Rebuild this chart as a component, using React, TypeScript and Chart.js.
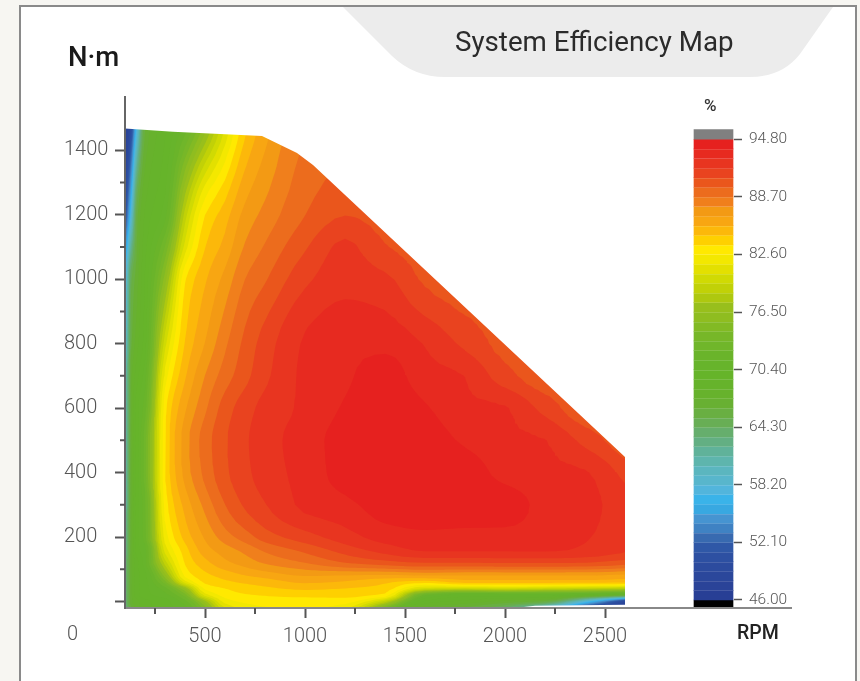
import React, { useEffect, useRef } from "react";
import { Chart, registerables } from "chart.js";

Chart.register(...registerables);

// Operating map grid: speed (RPM) by torque (N·m), efficiency in %.
const rpmNodes = [100, 130, 160, 200, 300, 400, 500, 600, 700, 800, 1000, 1200, 1400, 1600, 1800, 2000, 2200, 2400, 2600];
const torqueNodes = [-20, 0, 20, 40, 60, 80, 120, 160, 200, 300, 400, 500, 600, 700, 800, 1000, 1100, 1200, 1500];
const efficiency = [
  [62, 66, 68, 69, 70, 71, 75, 80.5, 82, 82.5, 82.8, 82, 74, 67, 66, 64, 58, 50, 46.5],
  [63, 67, 68, 69, 70, 72, 77, 82, 82.8, 83, 83, 83, 79, 69, 68, 67, 66, 58, 49],
  [63, 67, 69, 70, 71, 74, 81, 83, 83.5, 83.7, 84, 84, 83.3, 72, 70, 70, 70, 69, 67],
  [63, 67, 69, 70, 72, 76.5, 82.8, 83.6, 84.1, 84.4, 84.8, 84.6, 84.2, 80, 79.5, 80, 79.5, 79, 78.5],
  [63, 67, 69, 70, 74, 81, 83.8, 84.4, 84.8, 85.1, 85.8, 85.5, 84.8, 84, 85, 85, 85, 85, 84.8],
  [63, 67, 69, 70, 76, 82.8, 84.3, 85, 85.6, 86, 86.7, 86.6, 86.4, 86.6, 86.6, 86.6, 86.6, 86.6, 86.3],
  [63, 67, 69, 71, 79, 83.7, 85.3, 86.4, 87.1, 87.8, 88.7, 89.7, 90.3, 90.7, 90.7, 90.8, 90.8, 90.7, 90.2],
  [62, 67, 70, 71, 81, 84.2, 86.2, 87.2, 88, 88.9, 90, 91.2, 92.2, 92.9, 92.9, 92.9, 92.9, 92.6, 91.9],
  [62, 67, 70, 72, 82, 85, 86.8, 88.2, 89.2, 90.2, 91.3, 92.3, 93.2, 93.5, 93.4, 93.4, 93.2, 92.85, 92.2],
  [61, 67, 70, 72, 83, 86, 88, 89.7, 90.9, 91.7, 93, 93.5, 94.3, 94.5, 94.5, 94.4, 93.4, 93.1, 92.2],
  [60, 67, 70, 73, 83.5, 87, 89, 90.5, 91.5, 92.2, 93.2, 94.2, 94.7, 94.6, 94.4, 93.4, 93, 92.85, 91.4],
  [60, 67, 70, 73, 83.6, 87.2, 89.2, 90.6, 91.6, 92.3, 93.3, 94.2, 94.6, 94.4, 93.6, 93, 92.8, 91.4, 90],
  [60, 67, 70, 72, 83.3, 86.5, 88.5, 90.2, 91.3, 92.1, 93, 93.9, 94.5, 93.9, 93, 92.85, 91.35, 90.1, 90.1],
  [60, 67, 69, 71, 82, 85.5, 87.7, 89.2, 90.4, 91.5, 93, 93.6, 94.3, 93.2, 92.75, 91.1, 90.2, 90.2, 90.2],
  [58, 66, 68, 70, 80.2, 84.7, 86.7, 88.5, 90, 91.2, 92.9, 93.5, 93.5, 92.7, 91.5, 90.4, 90.2, 90.2, 90.2],
  [57, 65, 67, 69.5, 76, 83.5, 85.5, 87, 88.7, 89.6, 91.5, 92.4, 92, 90.55, 90.2, 90.2, 90.2, 90.2, 90.2],
  [54, 62, 66.5, 69, 73.5, 81, 84.6, 86, 87.8, 88.8, 90.6, 92, 90.8, 90.3, 90.2, 90.2, 90.2, 90.2, 90.2],
  [50, 58, 66, 68.5, 71, 79, 83.6, 85.2, 87, 88, 89.7, 90.7, 90.3, 90.2, 90.2, 90.2, 90.2, 90.2, 90.2],
  [46, 49, 57, 66, 69, 71, 75, 80, 84, 86, 88.5, 89, 89.5, 90, 90, 90, 90, 90, 90],
];

// Outline of the reachable operating region.
const envelopeRpm = [100, 340, 785, 960, 1040, 2600, 2600, 2150, 2050, 100];
const envelopeTorque = [1467, 1457, 1444, 1391, 1354, 448, -10, -13, -20, -20];

// Colour scale: one colour per band, lowest first.
const scaleMin = 46;
const scaleMax = 94.8;
const bandColors = [
  "#283f95", "#2a4398", "#2b479b", "#2c4b9e", "#2d50a2", "#2f58a7",
  "#386ab0", "#3f82c3", "#4694d1", "#38a8e1", "#3ab3e9", "#52b5dc",
  "#58b6cc", "#5bb6bf", "#5eb5ad", "#60b29a", "#63af83", "#66ae6d",
  "#68ae55", "#69af42", "#68b032", "#67b22c", "#66b32b", "#66b42a",
  "#67b42b", "#6ab42a", "#70b62a", "#77b728", "#82ba24", "#8fbd20",
  "#98bf1c", "#aec80f", "#c1d107", "#d0da03", "#e3e000", "#f3e800",
  "#ffe900", "#fed000", "#fcb80a", "#f8a612", "#f39a14", "#f07f1c",
  "#ec6c1d", "#ea561c", "#e9431f", "#e83520", "#e72a20", "#e6211f",
];
const overColor = "#808080";
const underColor = "#000000";
const scaleTicks = [46, 52.1, 58.2, 64.3, 70.4, 76.5, 82.6, 88.7, 94.8];

const xMajorTicks = [500, 1000, 1500, 2000, 2500];
const xMinorTicks = [250, 750, 1250, 1750, 2250];
const yMajorTicks = [0, 200, 400, 600, 800, 1000, 1200, 1400];
const yMinorTicks = [100, 300, 500, 700, 900, 1100, 1300];

const X_MIN = 100;
const X_MAX = 3145;
const Y_MIN = -20;
const Y_MAX = 1565;
const BAR_RPM = 3042.5;
const BAR_HALF = 100;
const S_MIN = 45.15;
const S_MAX = 99.28;
const S_TOP = 95.84;
const TICK_FONT = { family: "Roboto", size: 20, weight: "300" };
const TICK_COLOR = "#555555";
const REFINE = 4;

// Shape-preserving cubic through (xs, ys), evaluated at the given places.
function monotone(xs: number[], ys: number[], at: number[]) {
  const n = xs.length;
  const d: number[] = [];
  for (let i = 0; i < n - 1; i++) d.push((ys[i + 1] - ys[i]) / (xs[i + 1] - xs[i]));
  const m: number[] = [d[0]];
  for (let i = 1; i < n - 1; i++) {
    if (d[i - 1] * d[i] <= 0) m.push(0);
    else {
      const h0 = xs[i] - xs[i - 1];
      const h1 = xs[i + 1] - xs[i];
      m.push((3 * (h0 + h1)) / ((2 * h1 + h0) / d[i - 1] + (h1 + 2 * h0) / d[i]));
    }
  }
  m.push(d[n - 2]);
  return at.map((v) => {
    let i = 0;
    while (i < n - 2 && v > xs[i + 1]) i++;
    const h = xs[i + 1] - xs[i];
    const t = (v - xs[i]) / h;
    const t2 = t * t;
    const t3 = t2 * t;
    return (2 * t3 - 3 * t2 + 1) * ys[i] + (t3 - 2 * t2 + t) * h * m[i] + (-2 * t3 + 3 * t2) * ys[i + 1] + (t3 - t2) * h * m[i + 1];
  });
}

function subdivide(nodes: number[]) {
  const out: number[] = [];
  for (let i = 0; i < nodes.length - 1; i++) {
    for (let k = 0; k < REFINE; k++) out.push(nodes[i] + ((nodes[i + 1] - nodes[i]) * k) / REFINE);
  }
  out.push(nodes[nodes.length - 1]);
  return out;
}

const fineRpm = subdivide(rpmNodes);
const fineTorque = subdivide(torqueNodes);
const fineEff = (() => {
  const byCol = rpmNodes.map((_, c) => monotone(torqueNodes, efficiency.map((row) => row[c]), fineTorque));
  return fineTorque.map((_, r) => monotone(rpmNodes, byCol.map((col) => col[r]), fineRpm));
})();

// Traces {efficiency >= level} over the grid as closed outlines.
function traceLevel(level: number) {
  const nx = fineRpm.length + 2;
  const ny = fineTorque.length + 2;
  const id = (i: number, j: number) => j * nx + i;
  const isReal = (n: number) => {
    const i = n % nx;
    const j = Math.floor(n / nx);
    return i > 0 && i < nx - 1 && j > 0 && j < ny - 1;
  };
  const val = (n: number) => (isReal(n) ? fineEff[Math.floor(n / nx) - 1][(n % nx) - 1] : -1e6);
  const pos = (n: number) => ({ x: fineRpm[(n % nx) - 1], y: fineTorque[Math.floor(n / nx) - 1] });
  const cross = new Map<string, { x: number; y: number }>();
  const edge = (a: number, b: number) => {
    const key = a < b ? `${a}_${b}` : `${b}_${a}`;
    if (!cross.has(key)) {
      const ra = isReal(a);
      const rb = isReal(b);
      if (!ra || !rb) {
        cross.set(key, pos(ra ? a : b));
      } else {
        const t = (level - val(a)) / (val(b) - val(a));
        const pa = pos(a);
        const pb = pos(b);
        cross.set(key, { x: pa.x + (pb.x - pa.x) * t, y: pa.y + (pb.y - pa.y) * t });
      }
    }
    return key;
  };
  const next = new Map<string, string>();
  const tri = (p: number, q: number, r: number) => {
    const nodes = [p, q, r];
    let from: string | null = null;
    let to: string | null = null;
    for (let k = 0; k < 3; k++) {
      const a = nodes[k];
      const b = nodes[(k + 1) % 3];
      const ia = val(a) >= level;
      const ib = val(b) >= level;
      if (ia && !ib) from = edge(a, b);
      if (!ia && ib) to = edge(a, b);
    }
    if (from && to) next.set(from, to);
  };
  for (let j = 0; j < ny - 1; j++) {
    for (let i = 0; i < nx - 1; i++) {
      const a = id(i, j);
      const b = id(i + 1, j);
      const c = id(i + 1, j + 1);
      const d = id(i, j + 1);
      tri(a, b, c);
      tri(a, c, d);
    }
  }
  const loops: { x: number; y: number }[][] = [];
  const seen = new Set<string>();
  for (const start of next.keys()) {
    if (seen.has(start)) continue;
    const pts: { x: number; y: number }[] = [];
    let cur: string | undefined = start;
    while (cur && !seen.has(cur)) {
      seen.add(cur);
      const p = cross.get(cur)!;
      const last = pts[pts.length - 1];
      if (!last || last.x !== p.x || last.y !== p.y) pts.push(p);
      cur = next.get(cur);
    }
    let area = 0;
    for (let k = 0; k < pts.length; k++) {
      const a = pts[k];
      const b = pts[(k + 1) % pts.length];
      area += a.x * b.y - b.x * a.y;
    }
    if (area > 0 && pts.length > 2) loops.push([...pts, pts[0]]);
  }
  return loops;
}

function buildDatasets() {
  const step = (scaleMax - scaleMin) / bandColors.length;
  const sets: any[] = [];
  bandColors.forEach((color, k) => {
    traceLevel(scaleMin + k * step).forEach((loop) => {
      sets.push({
        type: "line",
        data: loop,
        xAxisID: "x",
        yAxisID: "y",
        fill: "shape",
        backgroundColor: color,
        borderColor: color,
        borderWidth: 0,
        pointRadius: 0,
        tension: 0,
        order: 1000 - k,
      });
    });
  });
  const barData = [{ x: BAR_RPM, y: [S_MIN, scaleMin] }];
  const barColors = [underColor];
  bandColors.forEach((color, k) => {
    barData.push({ x: BAR_RPM, y: [scaleMin + k * step, scaleMin + (k + 1) * step] });
    barColors.push(color);
  });
  barData.push({ x: BAR_RPM, y: [scaleMax, S_TOP] });
  barColors.push(overColor);
  sets.push({
    type: "bar",
    data: barData,
    xAxisID: "x",
    yAxisID: "y2",
    backgroundColor: barColors,
    borderWidth: 0,
    barThickness: 39,
    order: 0,
  });
  return sets;
}

// Masks the part of the grid outside the operating region (the card is white).
const regionMask = {
  id: "regionMask",
  afterDatasetsDraw(chart: any) {
    const { ctx, scales, chartArea } = chart;
    const barLeft = scales.x.getPixelForValue(BAR_RPM - BAR_HALF - 50);
    ctx.save();
    ctx.beginPath();
    ctx.rect(chartArea.left, chartArea.top, barLeft - chartArea.left, chartArea.bottom - chartArea.top);
    envelopeRpm.forEach((rpm, i) => {
      const px = scales.x.getPixelForValue(rpm);
      const py = scales.y.getPixelForValue(envelopeTorque[i]);
      if (i === 0) ctx.moveTo(px, py);
      else ctx.lineTo(px, py);
    });
    ctx.closePath();
    ctx.fillStyle = "#ffffff";
    ctx.fill("evenodd");
    ctx.restore();
  },
};

const axisExtras = {
  id: "axisExtras",
  afterDraw(chart: any) {
    const { ctx, scales, chartArea } = chart;
    const step = (scaleMax - scaleMin) / bandColors.length;
    ctx.save();
    ctx.strokeStyle = "rgba(255,255,255,0.14)";
    ctx.lineWidth = 1;
    ctx.beginPath();
    const barL = scales.x.getPixelForValue(BAR_RPM) - 19.5;
    bandColors.forEach((_, k) => {
      const py = Math.round(scales.y2.getPixelForValue(scaleMin + k * step)) + 0.5;
      if (k > 0) {
        ctx.moveTo(barL, py);
        ctx.lineTo(barL + 39, py);
      }
    });
    ctx.stroke();
    ctx.strokeStyle = "#888888";
    ctx.lineWidth = 2;
    ctx.beginPath();
    ctx.moveTo(chartArea.right, chartArea.bottom);
    ctx.lineTo(792, chartArea.bottom);
    ctx.stroke();
    ctx.strokeStyle = "#555555";
    ctx.beginPath();
    xMinorTicks.forEach((v) => {
      const px = scales.x.getPixelForValue(v);
      ctx.moveTo(px, chartArea.bottom);
      ctx.lineTo(px, chartArea.bottom + 6);
    });
    yMinorTicks.forEach((v) => {
      const py = scales.y.getPixelForValue(v);
      ctx.moveTo(chartArea.left, py);
      ctx.lineTo(chartArea.left - 5, py);
    });
    ctx.stroke();
    ctx.restore();
  },
};

export default function App() {
  const ref = useRef<HTMLCanvasElement | null>(null);
  useEffect(() => {
    const chart = new Chart(ref.current as any, {
      type: "line",
      data: { datasets: buildDatasets() },
      plugins: [regionMask, axisExtras],
      options: {
        animation: false,
        responsive: false,
        events: [],
        layout: { padding: { left: 64, top: 97, right: 0, bottom: 0 } },
        plugins: { legend: { display: false }, title: { display: false }, tooltip: { enabled: false } },
        scales: {
          x: {
            type: "linear",
            min: X_MIN,
            max: X_MAX,
            offset: false,
            position: "bottom",
            afterBuildTicks: (s: any) => { s.ticks = xMajorTicks.map((value) => ({ value })); },
            afterFit: (s: any) => { s.height = 73; },
            ticks: {
              autoSkip: false,
              maxRotation: 0,
              padding: 7,
              font: TICK_FONT,
              color: TICK_COLOR,
              callback: (v: any) => String(v),
            },
            grid: { offset: false, drawOnChartArea: false, tickLength: 10, tickWidth: 2, tickColor: "#555555" },
            border: { color: "#888888", width: 2, z: 1 },
          },
          y: {
            type: "linear",
            min: Y_MIN,
            max: Y_MAX,
            position: "left",
            afterBuildTicks: (s: any) => { s.ticks = yMajorTicks.map((value) => ({ value })); },
            afterFit: (s: any) => { s.width = 61; },
            ticks: {
              autoSkip: false,
              crossAlign: "far",
              font: TICK_FONT,
              color: TICK_COLOR,
              callback: (v: any) => (v === 0 ? "" : String(v)),
            },
            grid: { drawOnChartArea: false, tickLength: 10, tickWidth: 2, tickColor: "#555555" },
            border: { color: "#666666", width: 2, z: 1 },
          },
          y2: {
            type: "linear",
            min: S_MIN,
            max: S_MAX,
            position: "right",
            afterBuildTicks: (s: any) => { s.ticks = scaleTicks.map((value) => ({ value })); },
            afterFit: (s: any) => { s.width = 126; },
            ticks: {
              autoSkip: false,
              padding: 7,
              font: { family: "Roboto", size: 15.5, weight: "300" },
              color: TICK_COLOR,
              callback: (v: any) => Number(v).toFixed(2),
            },
            grid: { drawOnChartArea: false, tickLength: 8, tickWidth: 1.5, tickColor: "#555555" },
            border: { display: false },
          },
        },
      },
    } as any);
    return () => chart.destroy();
  }, []);

  const label = (text: string, x: number, baseline: number, size: number, weight: number, color: string) => (
    <div
      style={{
        position: "absolute",
        left: x,
        top: baseline - size,
        height: size * 1.2,
        lineHeight: `${size * 1.2}px`,
        fontFamily: "Roboto, sans-serif",
        fontSize: size,
        fontWeight: weight,
        color,
        whiteSpace: "nowrap",
      }}
    >
      {text}
    </div>
  );

  return (
    <div style={{ position: "fixed", left: 0, top: 0, width: 860, height: 681, overflow: "hidden", background: "#f7f6f2" }}>
      <div
        style={{
          position: "absolute",
          left: 19,
          top: 5,
          width: 838,
          height: 700,
          boxSizing: "border-box",
          background: "#ffffff",
          border: "2px solid #8a8a8a",
        }}
      />
      <svg width={860} height={681} style={{ position: "absolute", left: 0, top: 0 }}>
        <path d="M343,7 L392,56 Q414,77 445,77 L750,77 Q782,77 800,54 L833,7 Z" fill="#ececec" />
      </svg>
      <canvas ref={ref} width={860} height={681} style={{ position: "absolute", left: 0, top: 0, display: "block" }} />
      {label("System Efficiency Map", 455, 53, 27.7, 400, "#2b2b2b")}
      {label("N·m", 68, 67, 27.5, 500, "#1a1a1a")}
      {label("%", 704, 112, 17, 500, "#333333")}
      {label("RPM", 737, 640, 19.5, 500, "#222222")}
      {label("0", 67, 641, 20, 300, TICK_COLOR)}
    </div>
  );
}
